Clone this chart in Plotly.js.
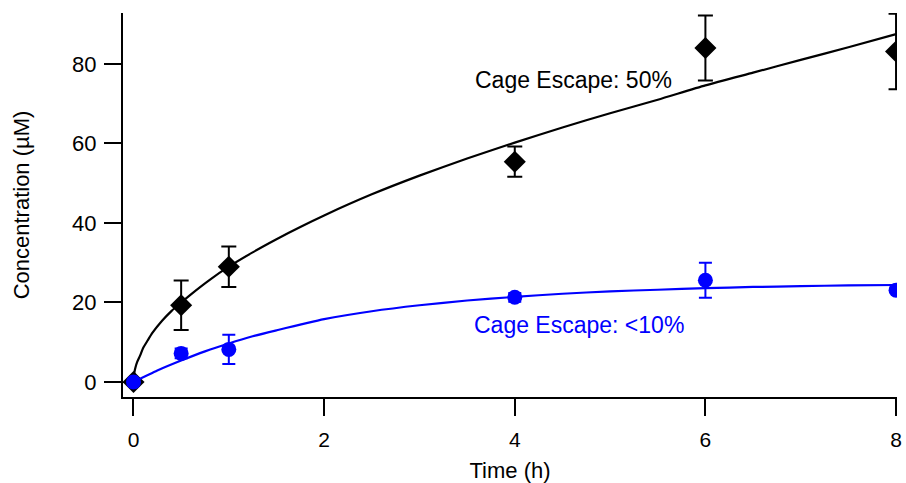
<!DOCTYPE html>
<html>
<head>
<meta charset="utf-8">
<script src="https://cdn.plot.ly/plotly-3.0.1.min.js"></script>
<style>html,body{margin:0;padding:0;background:#fff;}#chart{width:906px;height:483px;}</style>
</head>
<body>
<div id="chart"></div>
<script>
// Measured data (time in h, concentration in µM)
const blackT = [0, 0.5, 1, 4, 6, 8];
const blackY = [0, 19.3, 29.0, 55.4, 84.0, 83.1];
const blackErr = [0, 6.2, 5.1, 3.8, 8.2, 9.5];

const blueT = [0, 0.5, 1, 4, 6, 8];
const blueY = [0, 7.2, 8.2, 21.3, 25.6, 23.1];
const blueErr = [0, 1.2, 3.7, 1.1, 4.4, 0];

// Fit curves
const blackFitT = [0, 0.01, 0.02, 0.04, 0.07, 0.1, 0.15, 0.2, 0.3, 0.4, 0.5, 0.6, 0.8, 1.0, 1.25, 1.5, 1.75, 2, 2.5, 3, 3.5, 4, 4.5, 5, 5.5, 6, 6.5, 7, 7.5, 8];
const blackFitY = [0, 2.5, 3.6, 5.1, 6.7, 8.5, 10.5, 12.4, 15.4, 17.9, 20.0, 22.0, 25.7, 29.0, 32.6, 35.9, 39.0, 41.9, 47.2, 51.9, 56.2, 60.2, 64.0, 67.6, 71.0, 74.6, 77.8, 81.0, 84.2, 87.5];

const blueFitT = [0, 0.25, 0.5, 0.75, 1, 1.25, 1.5, 2, 2.5, 3, 3.5, 4, 4.5, 5, 5.5, 6, 6.5, 7, 7.5, 8];
const blueFitY = [0, 2.9, 5.4, 7.7, 9.7, 11.5, 13.0, 15.8, 17.8, 19.3, 20.5, 21.4, 22.2, 22.8, 23.2, 23.6, 23.9, 24.1, 24.3, 24.4];

const xTicks = [0, 2, 4, 6, 8];
const yTicks = [0, 20, 40, 60, 80];

const labelBlack = "Cage Escape: 50%";
const labelBlue = "Cage Escape: &lt;10%";

const FONT = "Liberation Sans, Arial, sans-serif";

const traces = [
  {x: blackFitT, y: blackFitY, mode: "lines", line: {color: "#000000", width: 2.2, shape: "spline", smoothing: 0.6}, hoverinfo: "skip"},
  {x: blackT, y: blackY, mode: "markers", marker: {symbol: "diamond", size: 17, color: "#000000"},
   error_y: {type: "data", array: blackErr, visible: true, color: "#000000", thickness: 2, width: 7.5}},
  {x: blueFitT, y: blueFitY, mode: "lines", line: {color: "#0000ff", width: 2.2, shape: "spline", smoothing: 0.6}, hoverinfo: "skip"},
  {x: blueT, y: blueY, mode: "markers", marker: {symbol: "circle", size: 15, color: "#0000ff"},
   error_y: {type: "data", array: blueErr, visible: true, color: "#0000ff", thickness: 2, width: 6.5}}
];

const layout = {
  width: 906, height: 483,
  margin: {l: 123, r: 9, t: 13, b: 86},
  paper_bgcolor: "#ffffff", plot_bgcolor: "#ffffff",
  showlegend: false,
  font: {family: FONT, size: 22, color: "#000000"},
  xaxis: {
    range: [-0.11, 8.01], tickvals: xTicks, ticktext: xTicks.map(String),
    showgrid: false, zeroline: false, showline: true, linecolor: "#000000", linewidth: 2,
    ticks: "outside", ticklen: 17, tickwidth: 2, tickcolor: "#000000", ticklabelstandoff: 6,
    tickfont: {family: FONT, size: 21, color: "#000000"},
    title: {text: "Time (h)", font: {family: FONT, size: 22, color: "#000000"}, standoff: 12}
  },
  yaxis: {
    range: [-3.77, 92.8], tickvals: yTicks, ticktext: yTicks.map(String),
    showgrid: false, zeroline: false, showline: true, linecolor: "#000000", linewidth: 2,
    ticks: "outside", ticklen: 17, tickwidth: 2, tickcolor: "#000000", ticklabelstandoff: 3,
    tickfont: {family: FONT, size: 22, color: "#000000"},
    title: {text: "Concentration (µM)", font: {family: FONT, size: 22, color: "#000000"}, standoff: 36}
  },
  annotations: [
    {x: 3.56, y: 76, xref: "x", yref: "y", text: labelBlack, showarrow: false, xanchor: "left", yanchor: "middle",
     font: {family: FONT, size: 23, color: "#000000"}},
    {x: 3.55, y: 14.3, xref: "x", yref: "y", text: labelBlue, showarrow: false, xanchor: "left", yanchor: "middle",
     font: {family: FONT, size: 23, color: "#0000ff"}}
  ]
};

Plotly.newPlot("chart", traces, layout, {staticPlot: true, displayModeBar: false});
</script>
</body>
</html>
